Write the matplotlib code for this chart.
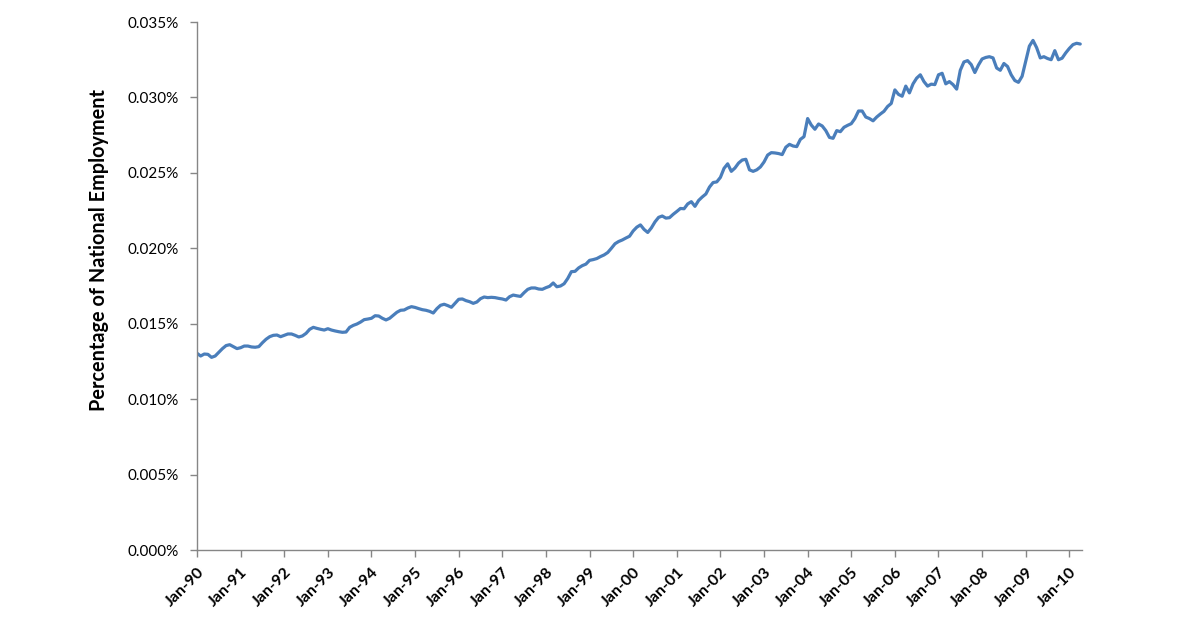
import matplotlib
matplotlib.use("Agg")
import matplotlib.pyplot as plt
import numpy as np
from matplotlib.ticker import FuncFormatter, FixedLocator

# Monthly values, Jan-1990 .. Apr-2010, percent of national employment
values = [
    # 1990
    0.01304, 0.01286, 0.01299, 0.01297, 0.01277, 0.01286, 0.01310, 0.01335, 0.01355, 0.01361, 0.01348, 0.01335,
    # 1991
    0.01341, 0.01352, 0.01352, 0.01346, 0.01344, 0.01348, 0.01374, 0.01397, 0.01414, 0.01423, 0.01425, 0.01414,
    # 1992
    0.01423, 0.01432, 0.01432, 0.01423, 0.01412, 0.01419, 0.01436, 0.01463, 0.01476, 0.01469, 0.01463, 0.01458,
    # 1993
    0.01467, 0.01458, 0.01452, 0.01447, 0.01443, 0.01445, 0.01476, 0.01489, 0.01498, 0.01511, 0.01527, 0.01531,
    # 1994
    0.01536, 0.01553, 0.01551, 0.01536, 0.01525, 0.01536, 0.01556, 0.01576, 0.01589, 0.01591, 0.01604, 0.01613,
    # 1995
    0.01608, 0.01600, 0.01593, 0.01589, 0.01582, 0.01571, 0.01600, 0.01622, 0.01629, 0.01620, 0.01609, 0.01635,
    # 1996
    0.01662, 0.01664, 0.01653, 0.01646, 0.01635, 0.01644, 0.01666, 0.01677, 0.01673, 0.01675, 0.01673, 0.01668,
    # 1997
    0.01664, 0.01657, 0.01679, 0.01690, 0.01685, 0.01681, 0.01706, 0.01728, 0.01737, 0.01737, 0.01730, 0.01728,
    # 1998
    0.01739, 0.01748, 0.01770, 0.01745, 0.01750, 0.01765, 0.01800, 0.01845, 0.01847, 0.01870, 0.01885, 0.01895,
    # 1999
    0.01920, 0.01925, 0.01932, 0.01945, 0.01956, 0.01972, 0.02000, 0.02030, 0.02045, 0.02055, 0.02068, 0.02080,
    # 2000
    0.02115, 0.02140, 0.02155, 0.02125, 0.02105, 0.02135, 0.02175, 0.02205, 0.02214, 0.02200, 0.02203, 0.02225,
    # 2001
    0.02244, 0.02264, 0.02262, 0.02294, 0.02309, 0.02278, 0.02317, 0.02340, 0.02360, 0.02406, 0.02436, 0.02440,
    # 2002
    0.02470, 0.02530, 0.02560, 0.02510, 0.02532, 0.02565, 0.02585, 0.02590, 0.02520, 0.02510, 0.02520, 0.02539,
    # 2003
    0.02572, 0.02618, 0.02634, 0.02632, 0.02628, 0.02621, 0.02670, 0.02689, 0.02678, 0.02674, 0.02722, 0.02740,
    # 2004
    0.02860, 0.02817, 0.02789, 0.02824, 0.02811, 0.02780, 0.02735, 0.02729, 0.02780, 0.02773, 0.02802, 0.02815,
    # 2005
    0.02826, 0.02860, 0.02910, 0.02910, 0.02870, 0.02860, 0.02845, 0.02870, 0.02890, 0.02908, 0.02940, 0.02960,
    # 2006
    0.03050, 0.03020, 0.03008, 0.03075, 0.03030, 0.03090, 0.03128, 0.03150, 0.03105, 0.03075, 0.03088, 0.03085,
    # 2007
    0.03150, 0.03160, 0.03090, 0.03105, 0.03085, 0.03055, 0.03180, 0.03235, 0.03244, 0.03218, 0.03165, 0.03215,
    # 2008
    0.03255, 0.03265, 0.03270, 0.03262, 0.03195, 0.03180, 0.03225, 0.03205, 0.03150, 0.03112, 0.03100, 0.03140,
    # 2009
    0.03240, 0.03340, 0.03378, 0.03330, 0.03262, 0.03270, 0.03258, 0.03250, 0.03310, 0.03250, 0.03260, 0.03295,
    # 2010
    0.03325, 0.03350, 0.03359, 0.03354,
]

tick_labels = ["Jan-90", "Jan-91", "Jan-92", "Jan-93", "Jan-94", "Jan-95", "Jan-96",
               "Jan-97", "Jan-98", "Jan-99", "Jan-00", "Jan-01", "Jan-02", "Jan-03",
               "Jan-04", "Jan-05", "Jan-06", "Jan-07", "Jan-08", "Jan-09", "Jan-10"]
y_ticks = [0.000, 0.005, 0.010, 0.015, 0.020, 0.025, 0.030, 0.035]
y_label = "Percentage of National Employment"

plt.rcParams['font.family'] = ['Lato', 'DejaVu Sans']

fig = plt.figure(figsize=(12, 6.3), dpi=100)
ax = fig.add_axes([197 / 1200, 80 / 630, (1081.7 - 197) / 1200, (550 - 22) / 630])

x = np.arange(len(values))
ax.plot(x, values, color='#4A7EBB', linewidth=2.3, solid_joinstyle='round', solid_capstyle='round')

ax.set_xlim(0, 243.4)
ax.set_ylim(0, 0.035)

axis_color = '#868686'
for side in ['top', 'right']:
    ax.spines[side].set_visible(False)
for side in ['left', 'bottom']:
    ax.spines[side].set_color(axis_color)
    ax.spines[side].set_linewidth(1.0)

ax.yaxis.set_major_locator(FixedLocator(y_ticks))
ax.yaxis.set_major_formatter(FuncFormatter(lambda v, p: f"{v:.3f}%"))
ax.set_xticks([12 * i for i in range(len(tick_labels))])
ax.set_xticklabels(tick_labels, rotation=45, ha='right', va='top', rotation_mode='anchor',
                   fontweight='bold', fontsize=11.5)

ax.tick_params(axis='both', direction='out', length=5, width=1, color=axis_color,
               labelcolor='black')
ax.tick_params(axis='y', pad=8, labelsize=11)
ax.tick_params(axis='x', pad=6)

ax.set_ylabel(y_label, fontsize=14.3, fontweight='bold', color='black')
ax.yaxis.set_label_coords(-0.0995, 0.568)

fig.savefig("out.png", dpi=100, facecolor='white')
